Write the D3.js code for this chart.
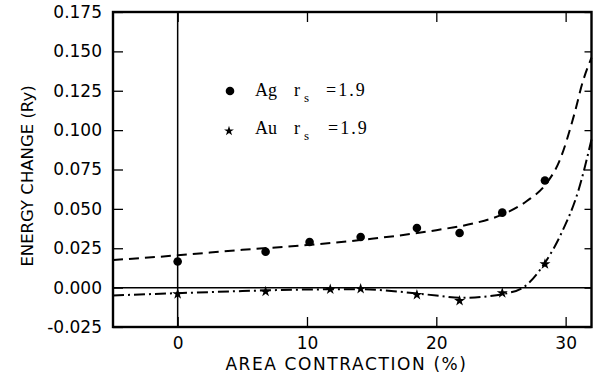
<!DOCTYPE html>
<html>
<head>
<meta charset="utf-8">
<script src="https://cdn.jsdelivr.net/npm/d3@7"></script>
<style>
	body { margin: 0; background: #fff; }
	svg { display: block; }
	.tick text { font-family: "DejaVu Sans", sans-serif; font-size: 17px; fill: #000; }
	.tick line { stroke: #000; stroke-width: 1.3; }
	.title { font-family: "DejaVu Sans", sans-serif; font-size: 17px; fill: #000; }
	.legend { font-family: "Liberation Serif", serif; font-size: 18px; fill: #000; }
</style>
</head>
<body>
<svg id="chart"></svg>
<script>
// points
let agX = [0, 6.8, 10.2, 14.15, 18.5, 21.8, 25.1, 28.4];
let agY = [0.0166, 0.0228, 0.029, 0.0321, 0.0379, 0.0347, 0.0476, 0.068];
let auX = [0, 6.8, 11.8, 14.15, 18.5, 21.8, 25.1, 28.4];
let auY = [-0.004, -0.0025, -0.001, -0.0008, -0.0046, -0.0084, -0.0035, 0.0149];

// fitted curves, traced
let agFitX = [-5, 0, 5, 10, 15, 20, 23, 25, 27, 28.5, 29.5, 30.7, 31.3, 32];
let agFitY = [0.0175, 0.0205, 0.024, 0.027, 0.031, 0.0365, 0.041, 0.046, 0.055, 0.066, 0.08, 0.111, 0.13, 0.146];
let auFitX = [-5, 0, 5, 10, 14, 17, 20, 22, 24, 25.2, 26.7, 28.4, 29.7, 31, 32];
let auFitY = [-0.005, -0.0035, -0.0022, -0.0012, -0.001, -0.0025, -0.005, -0.0065, -0.0055, -0.004, 0, 0.0158, 0.035, 0.062, 0.094];

let xTicks = [0, 10, 20, 30];
let yTicks = [-0.025, 0, 0.025, 0.05, 0.075, 0.1, 0.125, 0.15, 0.175];

let width = 595, height = 377;
let margin = {top: 12, right: 3.5, bottom: 50, left: 113};

let svg = d3.select("#chart")
	.attr("width", width)
	.attr("height", height);

let x = d3.scaleLinear().domain([-5, 32]).range([margin.left, width - margin.right]);
let y = d3.scaleLinear().domain([-0.025, 0.175]).range([height - margin.bottom, margin.top]);

// axes, ticks pointing inwards
svg.append("g")
	.attr("transform", `translate(${x.range()[0]},0)`)
	.call(d3.axisLeft(y).tickValues(yTicks).tickSizeInner(-10).tickSizeOuter(0).tickPadding(11)
		.tickFormat(d => d.toFixed(3)))
	.call(g => g.select(".domain").remove());

svg.append("g")
	.attr("transform", `translate(${x.range()[1]},0)`)
	.call(d3.axisRight(y).tickValues(yTicks).tickSizeInner(-7).tickSizeOuter(0).tickFormat(""))
	.call(g => g.select(".domain").remove());

svg.append("g")
	.attr("transform", `translate(0,${y.range()[0]})`)
	.call(d3.axisBottom(x).tickValues(xTicks).tickSizeInner(-10).tickSizeOuter(0).tickPadding(10))
	.call(g => g.select(".domain").remove());

svg.append("g")
	.attr("transform", `translate(0,${y.range()[1]})`)
	.call(d3.axisTop(x).tickValues(xTicks).tickSizeInner(-10).tickSizeOuter(0).tickFormat(""))
	.call(g => g.select(".domain").remove());

// zero lines
svg.append("line")
	.attr("x1", x(0)).attr("x2", x(0))
	.attr("y1", y.range()[0]).attr("y2", y.range()[1])
	.attr("stroke", "#000").attr("stroke-width", 1.5);
svg.append("line")
	.attr("x1", x.range()[0]).attr("x2", x.range()[1])
	.attr("y1", y(0)).attr("y2", y(0))
	.attr("stroke", "#000").attr("stroke-width", 1.5);

// frame
svg.append("rect")
	.attr("x", x.range()[0]).attr("y", y.range()[1])
	.attr("width", x.range()[1] - x.range()[0])
	.attr("height", y.range()[0] - y.range()[1])
	.attr("fill", "none").attr("stroke", "#000").attr("stroke-width", 2.4);

let line = d3.line()
	.x(d => x(d[0]))
	.y(d => y(d[1]))
	.curve(d3.curveMonotoneX);

svg.append("path")
	.datum(d3.zip(agFitX, agFitY))
	.attr("d", line)
	.attr("fill", "none").attr("stroke", "#000").attr("stroke-width", 2)
	.attr("stroke-dasharray", "10,6");

svg.append("path")
	.datum(d3.zip(auFitX, auFitY))
	.attr("d", line)
	.attr("fill", "none").attr("stroke", "#000").attr("stroke-width", 2)
	.attr("stroke-dasharray", "11,4,2,4");

svg.selectAll("circle.ag")
	.data(d3.zip(agX, agY))
	.enter().append("circle")
	.attr("class", "ag")
	.attr("cx", d => x(d[0]))
	.attr("cy", d => y(d[1]))
	.attr("r", 4.3);

let star = d3.symbol().type(d3.symbolStar).size(38);
svg.selectAll("path.au")
	.data(d3.zip(auX, auY))
	.enter().append("path")
	.attr("class", "au")
	.attr("d", star)
	.attr("transform", d => `translate(${x(d[0])},${y(d[1])})`);

// legend
let legend = [
	{name: "Ag", sym: "circle", cy: 91, base: 96, eq: 326},
	{name: "Au", sym: "star", cy: 131, base: 133.5, eq: 328}
];
legend.forEach(function(l){
	if(l.sym == "circle"){
		svg.append("circle").attr("cx", 230).attr("cy", l.cy).attr("r", 4.3);
	} else {
		svg.append("path").attr("d", d3.symbol().type(d3.symbolStar).size(30))
			.attr("transform", `translate(229,${l.cy})`);
	}
	svg.append("text").attr("class", "legend").attr("x", 255).attr("y", l.base).text(l.name);
	svg.append("text").attr("class", "legend").attr("x", 294).attr("y", l.base).text("r");
	svg.append("text").attr("class", "legend").attr("x", 304).attr("y", l.base + 6)
		.style("font-size", "13px").text("s");
	svg.append("text").attr("class", "legend").attr("x", l.eq).attr("y", l.base)
		.style("letter-spacing", "2px").text("=1.9");
});

// titles
svg.append("text")
	.attr("class", "title")
	.attr("x", 346.5).attr("y", 370)
	.attr("text-anchor", "middle")
	.style("letter-spacing", "1.6px")
	.text("AREA CONTRACTION (%)");

svg.append("text")
	.attr("class", "title")
	.attr("transform", "translate(33,176) rotate(-90)")
	.attr("text-anchor", "middle")
	.style("font-size", "16.5px")
	.text("ENERGY CHANGE (Ry)");
</script>
</body>
</html>
